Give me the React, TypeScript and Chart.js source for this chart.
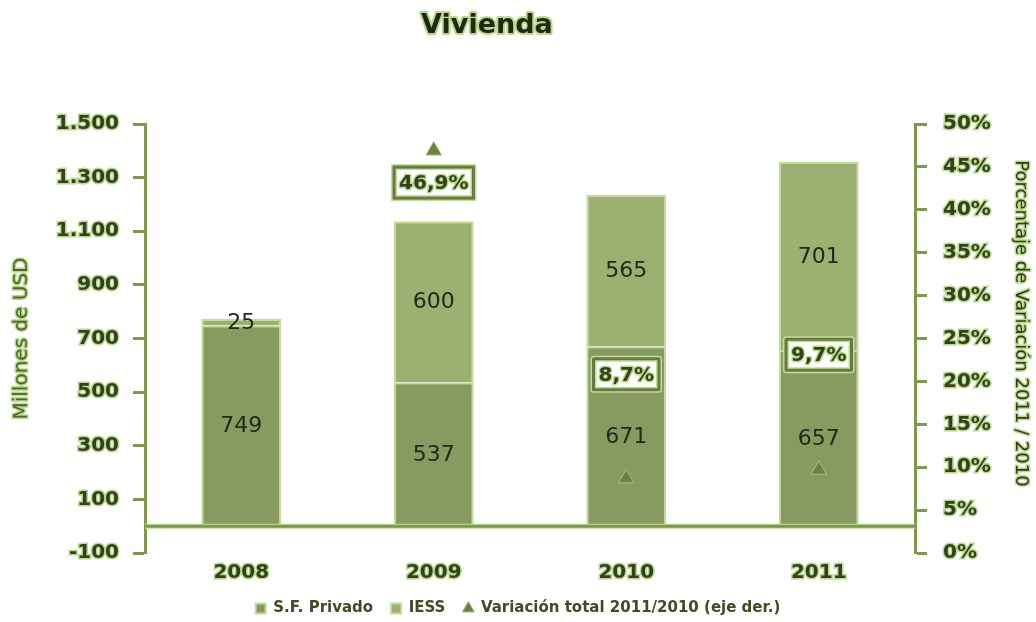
import React, { useEffect, useRef } from 'react';
import { Chart, registerables } from 'chart.js';

Chart.register(...registerables);

// ---------- data ----------
const categories = ['2008', '2009', '2010', '2011'];
const seriesNames = ['S.F. Privado', 'IESS', 'Variación total 2011/2010 (eje der.)'];
const sfPrivado = [749, 537, 671, 657];
const iess = [25, 600, 565, 701];
const variacion: (number | null)[] = [null, 0.469, 0.087, 0.097];
const leftAxisRange = [-100, 1500];
const leftAxisStep = 200;
const rightAxisRange = [0, 0.5];
const rightAxisStep = 0.05;
const titleText = 'Vivienda';
const leftTitle = 'Millones de USD';
const rightTitle = 'Porcentaje de Variación 2011 / 2010';

// ---------- style / layout ----------
const FONT = "'DejaVu Sans', Verdana, sans-serif";
const LEGEND_FONT = "'DejaVu Sans', Verdana, sans-serif";
const AXIS_COLOR = '#7e9a48';
const TEXT_DARK = '#34421c';
const HALO = '#b9d98e';
const SF_COLOR = '#889a60';
const IESS_COLOR = '#9cb171';
const BAR_BORDER = '#c2dd98';
const TRI_COLOR = '#6c8043';
const pctLabelOffsets = [0, 32, -104, -115];

function haloText(
  ctx: CanvasRenderingContext2D,
  text: string,
  x: number,
  y: number,
  font: string,
  fill: string,
  halo: string,
  w: number
) {
  ctx.font = font;
  ctx.lineJoin = 'round';
  if (w > 0) {
    ctx.strokeStyle = halo;
    ctx.lineWidth = w;
    ctx.strokeText(text, x, y);
  }
  ctx.fillStyle = fill;
  ctx.fillText(text, x, y);
}

const fmtThousands = (v: number) =>
  (v < 0 ? '-' : '') + String(Math.abs(v)).replace(/\B(?=(\d{3})+(?!\d))/g, '.');
const fmtPct = (v: number) => (v * 100).toFixed(1).replace('.', ',') + '%';

const decorPlugin = {
  id: 'decor',
  afterDatasetsDraw(chart: any) {
    const ctx: CanvasRenderingContext2D = chart.ctx;
    const { left, right } = chart.chartArea;
    // zero line
    const y0 = chart.scales.y.getPixelForValue(0);
    ctx.save();
    ctx.strokeStyle = '#c3dc9c';
    ctx.lineWidth = 5;
    ctx.beginPath();
    ctx.moveTo(left, y0);
    ctx.lineTo(right, y0);
    ctx.stroke();
    ctx.strokeStyle = AXIS_COLOR;
    ctx.lineWidth = 3;
    ctx.beginPath();
    ctx.moveTo(left, y0);
    ctx.lineTo(right, y0);
    ctx.stroke();

    // bar value labels
    ctx.textAlign = 'center';
    ctx.textBaseline = 'middle';
    [0, 1].forEach((di) => {
      const meta = chart.getDatasetMeta(di);
      meta.data.forEach((el: any, i: number) => {
        const v = chart.data.datasets[di].data[i];
        const p = el.getProps(['x', 'y', 'base'], true);
        ctx.font = `22px ${FONT}`;
        ctx.fillStyle = '#222a18';
        ctx.fillText(String(v), p.x, (p.y + p.base) / 2 + 1);
      });
    });

    // percentage labels
    const lmeta = chart.getDatasetMeta(2);
    lmeta.data.forEach((el: any, i: number) => {
      const v = chart.data.datasets[2].data[i];
      if (v === null || v === undefined) return;
      const txt = fmtPct(v);
      const cx = el.x;
      const cy = el.y + pctLabelOffsets[i];
      ctx.font = `bold 20px ${FONT}`;
      const tw = ctx.measureText(txt).width;
      const w = tw + 10;
      const h = 31;
      const x0 = cx - w / 2;
      const y0b = cy - h / 2;
      ctx.fillStyle = '#ffffff';
      ctx.fillRect(x0, y0b, w, h);
      ctx.strokeStyle = '#c3dc9c';
      ctx.lineWidth = 6;
      ctx.strokeRect(x0, y0b, w, h);
      ctx.strokeStyle = '#667b3e';
      ctx.lineWidth = 3;
      ctx.strokeRect(x0, y0b, w, h);
      ctx.textAlign = 'center';
      ctx.textBaseline = 'middle';
      haloText(ctx, txt, cx, cy + 1, `bold 20px ${FONT}`, TEXT_DARK, HALO, 3);
    });
    ctx.restore();
  },
  afterDraw(chart: any) {
    const ctx: CanvasRenderingContext2D = chart.ctx;
    const { top, bottom } = chart.chartArea;
    const mid = (top + bottom) / 2;
    ctx.save();
    // main title
    ctx.textAlign = 'center';
    ctx.textBaseline = 'alphabetic';
    haloText(ctx, titleText, chart.width * 0.47, 33, `bold 27px ${FONT}`, '#1f2a10', HALO, 4);
    // left axis title
    const ys = chart.scales.y;
    ctx.save();
    ctx.translate(ys.left + 22, mid);
    ctx.rotate(-Math.PI / 2);
    ctx.textAlign = 'center';
    ctx.textBaseline = 'middle';
    haloText(ctx, leftTitle, 0, 0, `20px ${FONT}`, '#4d6626', HALO, 3);
    ctx.restore();
    // right axis title
    const yr = chart.scales.y1;
    ctx.save();
    ctx.translate(yr.right - 15, mid - 15);
    ctx.rotate(Math.PI / 2);
    ctx.textAlign = 'center';
    ctx.textBaseline = 'middle';
    haloText(ctx, rightTitle, 0, 0, `18px ${FONT}`, '#2f3c18', HALO, 3);
    ctx.restore();
    ctx.restore();
  },
};

const tickFont = { family: FONT, size: 20, weight: 'bold' as const };

export default function App() {
  const ref = useRef<HTMLCanvasElement | null>(null);
  useEffect(() => {
    document.body.style.margin = '0';
    if (!ref.current) return;
    const chart = new Chart(ref.current, {
      type: 'bar',
      data: {
        labels: categories,
        datasets: [
          {
            type: 'bar',
            label: seriesNames[0],
            data: sfPrivado,
            backgroundColor: SF_COLOR,
            borderColor: BAR_BORDER,
            borderWidth: 2,
            yAxisID: 'y',
            categoryPercentage: 1,
            barPercentage: 0.415,
            pointStyle: 'rect',
            order: 1,
          } as any,
          {
            type: 'bar',
            label: seriesNames[1],
            data: iess,
            backgroundColor: IESS_COLOR,
            borderColor: BAR_BORDER,
            borderWidth: 2,
            yAxisID: 'y',
            categoryPercentage: 1,
            barPercentage: 0.415,
            pointStyle: 'rect',
            order: 1,
          } as any,
          {
            type: 'line',
            label: seriesNames[2],
            data: variacion,
            yAxisID: 'y1',
            showLine: false,
            pointStyle: 'triangle',
            pointRadius: 9,
            pointBackgroundColor: TRI_COLOR,
            pointBorderColor: '#a9c47e',
            pointBorderWidth: 1,
            backgroundColor: TRI_COLOR,
            borderColor: '#a9c47e',
            borderWidth: 1,
            order: 0,
          } as any,
        ],
      },
      options: {
        responsive: false,
        animation: false,
        layout: { padding: { top: 124, left: 0, right: 0, bottom: -4 } },
        plugins: {
          title: { display: false },
          tooltip: { enabled: false },
          legend: {
            position: 'bottom',
            labels: {
              usePointStyle: true,
              boxWidth: 10,
              boxHeight: 10,
              padding: 18,
              color: '#3d4c22',
              font: { family: LEGEND_FONT, size: 15, weight: 'bold' },
              sort: (a: any, b: any) => a.datasetIndex - b.datasetIndex,
            },
          },
        },
        scales: {
          x: {
            stacked: true,
            grid: { display: false },
            border: { display: false },
            ticks: {
              font: tickFont,
              color: TEXT_DARK,
              textStrokeColor: HALO,
              textStrokeWidth: 3,
              padding: 0,
            } as any,
            afterFit: (s: any) => {
              s.height = 30;
            },
          },
          y: {
            position: 'left',
            stacked: true,
            min: leftAxisRange[0],
            max: leftAxisRange[1],
            ticks: {
              stepSize: leftAxisStep,
              callback: (v: any) => fmtThousands(Number(v)),
              font: tickFont,
              color: TEXT_DARK,
              textStrokeColor: HALO,
              textStrokeWidth: 3,
              padding: 14,
            } as any,
            grid: {
              drawOnChartArea: false,
              tickLength: 12,
              tickColor: AXIS_COLOR,
              tickWidth: 3,
            },
            border: { color: AXIS_COLOR, width: 3 },
            afterFit: (s: any) => {
              s.width = 145;
            },
          },
          y1: {
            position: 'right',
            min: rightAxisRange[0],
            max: rightAxisRange[1],
            ticks: {
              stepSize: rightAxisStep,
              callback: (v: any) => Math.round(Number(v) * 100) + '%',
              font: tickFont,
              color: TEXT_DARK,
              textStrokeColor: HALO,
              textStrokeWidth: 3,
              padding: 16,
            } as any,
            grid: {
              drawOnChartArea: false,
              tickLength: 12,
              tickColor: AXIS_COLOR,
              tickWidth: 3,
            },
            border: { color: AXIS_COLOR, width: 3 },
            afterFit: (s: any) => {
              s.width = 121;
            },
          },
        },
      },
      plugins: [decorPlugin],
    });
    return () => chart.destroy();
  }, []);
  return (
    <div style={{ width: 1036, height: 622 }}>
      <canvas ref={ref} width={1036} height={622} style={{ display: 'block' }} />
    </div>
  );
}
